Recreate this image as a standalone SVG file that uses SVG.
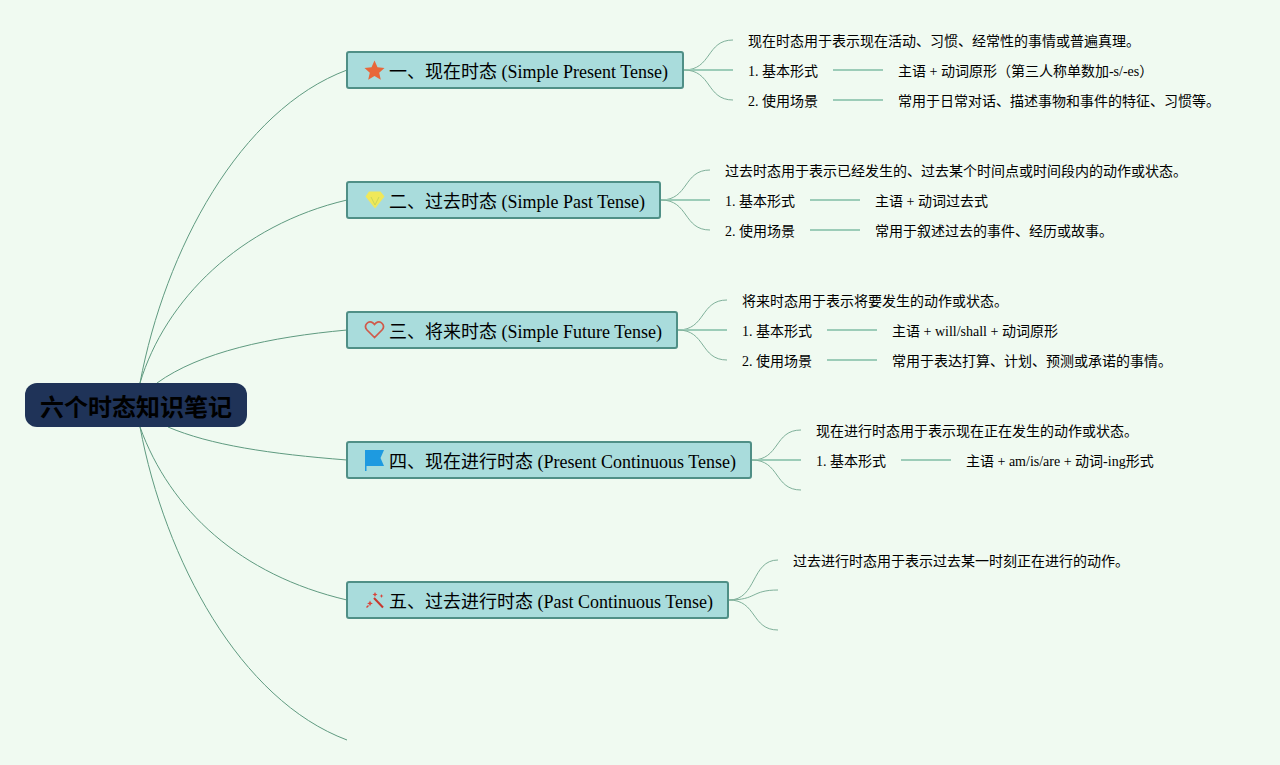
<svg xmlns="http://www.w3.org/2000/svg" width="1280" height="765" viewBox="0 0 1280 765">
<style>
text{font-family:"Liberation Serif","Noto Sans CJK SC",serif;fill:#000}
.t{font-size:18px}
.s{font-size:14px}
.topic rect{fill:#a9dcdc;stroke:#4f8f86;stroke-width:2}
.c path{fill:none;stroke:#5f9a80;stroke-width:1}
.c .b{stroke:#7fb09a;stroke-width:1}
.c .l{stroke:#9cccb8;stroke-width:2}
</style>
<rect width="1280" height="765" fill="#f0faf1"/>
<g class="c" id="connectors">
<path d="M140 383C165 250 240 110 347 70"/>
<path d="M140 383C165 300 240 225 347 200"/>
<path d="M157 383C200 352 270 337 347 330"/>
<path d="M168 427C210 445 270 454 347 460"/>
<path d="M140 427C170 510 240 575 347 600"/>
<path d="M140 427C165 560 240 700 347 740"/>
<g>
<path class="b" d="M684 70C712 70 706 40 733 40"/><path class="l" d="M684 70H733"/><path class="b" d="M684 70C712 70 706 100 733 100"/>
<path class="l" d="M833 70H883"/><path class="l" d="M833 100H883"/>
<path class="b" d="M661 200C689 200 683 170 710 170"/><path class="l" d="M661 200H710"/><path class="b" d="M661 200C689 200 683 230 710 230"/>
<path class="l" d="M810 200H860"/><path class="l" d="M810 230H860"/>
<path class="b" d="M678 330C706 330 700 300 727 300"/><path class="l" d="M678 330H727"/><path class="b" d="M678 330C706 330 700 360 727 360"/>
<path class="l" d="M827 330H877"/><path class="l" d="M827 360H877"/>
<path class="b" d="M752 460C780 460 774 430 801 430"/><path class="l" d="M752 460H801"/><path class="b" d="M752 460C780 460 774 490 801 490"/>
<path class="l" d="M901 460H951"/>
<path class="b" d="M729 600C757 600 751 560 778 560"/><path class="b" d="M729 600C757 600 751 590 778 590"/><path class="b" d="M729 600C757 600 751 630 778 630"/>
</g>
</g>
<g id="root"><rect x="25" y="383" width="222" height="44" rx="12" fill="#1f3358"/><text x="136" y="416" font-size="24" font-weight="700" text-anchor="middle" style="font-family:'Noto Sans CJK SC','Liberation Sans',sans-serif">六个时态知识笔记</text></g>
<g id="n1" class="topic"><rect x="347" y="52" width="336" height="36" rx="2"/>
<path d="M374.500 60.500l3 6.800 7 .7-5.300 4.700 1.600 7-6.300-3.700-6.300 3.700 1.600-7-5.300-4.700 7-.7z" fill="#e8673a"/>
<text class="t" x="389" y="77.500">一、现在时态 (Simple Present Tense)</text></g>
<g id="n1a"><text class="s" x="748" y="46">现在时态用于表示现在活动、习惯、经常性的事情或普遍真理。</text></g>
<g id="n1b"><text class="s" x="748" y="76">1. 基本形式</text></g>
<g id="n1b1"><text class="s" x="898" y="76">主语 + 动词原形（第三人称单数加-s/-es）</text></g>
<g id="n1c"><text class="s" x="748" y="106">2. 使用场景</text></g>
<g id="n1c1"><text class="s" x="898" y="106">常用于日常对话、描述事物和事件的特征、习惯等。</text></g>
<g id="n2" class="topic"><rect x="347" y="182" width="313" height="36" rx="2"/>
<path d="M369 191.500h11.500l4 5-9.500 12-9.500-12z" fill="#f0e85a"/><path d="M371 197l4 8 4-8" fill="none" stroke="#c9d858" stroke-width="1"/>
<text class="t" x="389" y="207.500">二、过去时态 (Simple Past Tense)</text></g>
<g id="n2a"><text class="s" x="725" y="176">过去时态用于表示已经发生的、过去某个时间点或时间段内的动作或状态。</text></g>
<g id="n2b"><text class="s" x="725" y="206">1. 基本形式</text></g>
<g id="n2b1"><text class="s" x="875" y="206">主语 + 动词过去式</text></g>
<g id="n2c"><text class="s" x="725" y="236">2. 使用场景</text></g>
<g id="n2c1"><text class="s" x="875" y="236">常用于叙述过去的事件、经历或故事。</text></g>
<g id="n3" class="topic"><rect x="347" y="312" width="330" height="36" rx="2"/>
<path d="M374.500 337.500l-7.500-7.500c-4-4.500 1.500-10.500 6-7l1.500 1.500 1.500-1.500c4.500-3.500 10 2.500 6 7z" fill="none" stroke="#d0594a" stroke-width="1.700"/>
<text class="t" x="389" y="337.500">三、将来时态 (Simple Future Tense)</text></g>
<g id="n3a"><text class="s" x="742" y="306">将来时态用于表示将要发生的动作或状态。</text></g>
<g id="n3b"><text class="s" x="742" y="336">1. 基本形式</text></g>
<g id="n3b1"><text class="s" x="892" y="336">主语 + will/shall + 动词原形</text></g>
<g id="n3c"><text class="s" x="742" y="366">2. 使用场景</text></g>
<g id="n3c1"><text class="s" x="892" y="366">常用于表达打算、计划、预测或承诺的事情。</text></g>
<g id="n4" class="topic"><rect x="347" y="442" width="404" height="36" rx="2"/>
<path d="M365 450h19l-3.500 8 3.500 8h-17.500v5h-1.500z" fill="#1e9ae0"/>
<text class="t" x="389" y="467.500">四、现在进行时态 (Present Continuous Tense)</text></g>
<g id="n4a"><text class="s" x="816" y="436">现在进行时态用于表示现在正在发生的动作或状态。</text></g>
<g id="n4b"><text class="s" x="816" y="466">1. 基本形式</text></g>
<g id="n4b1"><text class="s" x="966" y="466">主语 + am/is/are + 动词-ing形式</text></g>
<g id="n5" class="topic"><rect x="347" y="582" width="381" height="36" rx="2"/>
<path d="M374 598l9 9.500" stroke="#c8382e" stroke-width="2" fill="none"/><path d="M370 600.500l.9 2 2 .9-2 .9-.9 2-.9-2-2-.9 2-.9zM375 592l.8 1.700 1.700.8-1.700.8-.8 1.700-.8-1.700-1.700-.8 1.700-.8zM381.500 594l.6 1.400 1.400.6-1.400.6-.6 1.400-.6-1.400-1.400-.6 1.400-.6zM368 605l1 1-2 2-1-1z" fill="#d9443a"/>
<text class="t" x="389" y="607.500">五、过去进行时态 (Past Continuous Tense)</text></g>
<g id="n5a"><text class="s" x="793" y="566">过去进行时态用于表示过去某一时刻正在进行的动作。</text></g>
</svg>
